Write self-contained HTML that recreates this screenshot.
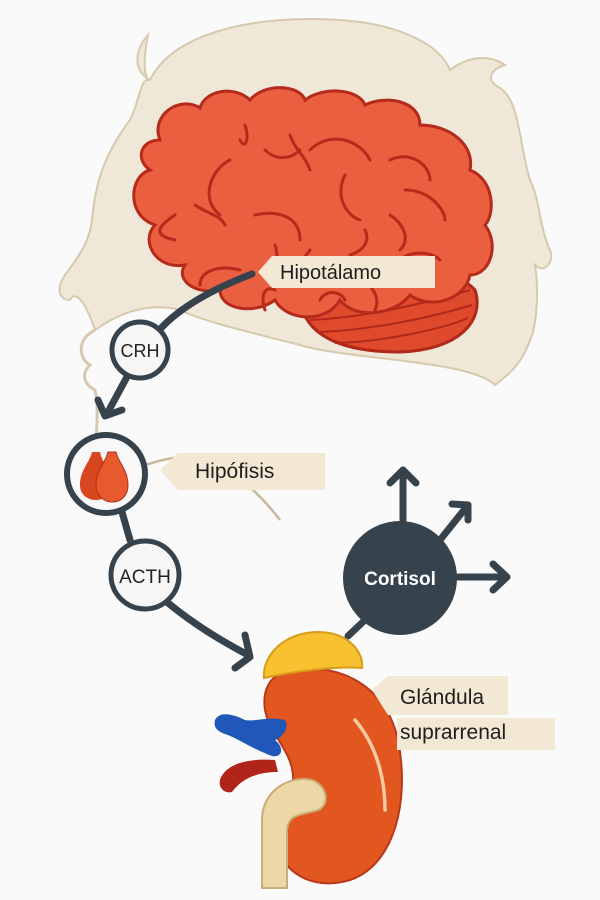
<!DOCTYPE html>
<html><head><meta charset="utf-8"><style>
html,body{margin:0;padding:0;background:#fafafa}
svg{display:block}
text{font-family:"Liberation Sans",sans-serif}
</style></head><body>
<svg width="600" height="900" viewBox="0 0 600 900" xmlns="http://www.w3.org/2000/svg">
<rect width="600" height="900" fill="#fafafa"/>
<path d="M148,35 C135,50 132,70 150,80 C175,30 260,15 340,20 C400,24 440,45 450,70 C470,55 490,55 505,65 C490,70 485,80 500,88 C520,100 520,150 530,180 C540,200 540,230 550,250 C555,260 545,275 535,265 C540,300 535,330 530,340 C520,370 500,380 495,385 C470,360 350,360 300,345 C240,330 200,320 180,310 C140,300 110,320 95,330 C85,300 75,290 70,300 C60,300 55,290 65,275 C80,255 90,240 92,220 C95,190 100,160 130,120 C140,100 140,80 148,80 C142,70 145,50 148,35 Z" fill="#efe8d8" stroke="#d6c9ae" stroke-width="2"/>
<path d="M95,330 C75,340 80,360 90,365 C80,375 85,385 95,390 C100,410 95,440 95,460" fill="none" stroke="#d6c9ae" stroke-width="3"/>
<path d="M130,470 C160,460 190,450 215,462 C240,475 265,500 280,520" fill="none" stroke="#c9b99a" stroke-width="2.5"/>
<path d="M300,300 C330,260 450,260 475,290 C485,320 460,350 400,352 C340,352 305,335 300,300 Z" fill="#e04a2c" stroke="#b0281a" stroke-width="3"/>
<g stroke="#b0281a" stroke-width="2" fill="none">
<path d="M310,320 C360,318 420,305 470,290"/><path d="M320,332 C370,330 430,318 472,305"/><path d="M335,343 C380,342 440,330 468,318"/>
</g>
<path d="M160,140 C150,115 180,95 200,108 C205,90 235,85 250,100 C265,82 300,85 305,100 C325,85 360,90 365,105 C385,95 420,100 420,125 C450,125 475,145 470,170 C495,180 495,215 485,225 C500,245 490,275 470,275 C465,300 430,310 410,295 C395,315 355,320 340,300 C325,325 285,320 275,300 C255,315 220,310 220,290 C195,295 175,280 185,265 C155,270 140,240 155,225 C125,215 130,175 150,170 C135,160 140,140 160,140 Z" fill="#ea5f3f" stroke="#b52a1a" stroke-width="3"/>
<g stroke="#b52a1a" stroke-width="3" fill="none" stroke-linecap="round">
<path d="M230,160 C210,170 200,200 220,215"/><path d="M245,125 C250,140 245,150 240,140"/><path d="M265,150 C275,160 290,160 300,150"/><path d="M290,135 C295,150 305,155 310,170"/>
<path d="M310,150 C330,130 360,140 370,160"/><path d="M345,175 C335,195 345,215 360,220"/><path d="M390,160 C410,150 430,165 430,180"/><path d="M405,190 C430,190 445,210 445,220"/>
<path d="M175,215 C160,225 150,235 175,240"/><path d="M195,205 C210,215 220,215 225,225"/><path d="M255,215 C275,210 300,215 300,240"/><path d="M275,245 C280,260 275,275 270,280"/>
<path d="M310,250 C300,265 285,275 285,285"/><path d="M350,255 C365,250 370,240 365,230"/><path d="M390,215 C405,225 410,240 400,250"/><path d="M395,265 C405,250 430,250 440,260"/>
<path d="M200,285 C200,270 220,265 240,270"/><path d="M265,310 C260,295 265,285 275,290"/><path d="M320,300 C325,290 340,290 345,300"/><path d="M355,275 C375,285 380,300 375,310"/>
</g>
<path d="M258,272 L272,256 L435,256 L435,288 L272,288 Z" fill="#f3e8d3"/>
<text x="280" y="279" font-size="20" fill="#1e1e1e">Hipotálamo</text>
<g stroke="#36434d" stroke-width="7" fill="none" stroke-linecap="round" stroke-linejoin="round">
<path d="M252,274 C210,290 175,310 155,335"/>
<path d="M128,375 L108,412"/>
<path d="M98,400 L105,416 L122,410"/>
<path d="M120,505 L130,540"/>
<path d="M168,603 C195,625 220,640 248,655"/>
<path d="M245,635 L250,657 L235,668"/>
<path d="M403,520 L403,470"/><path d="M390,483 L403,470 L416,483"/>
<path d="M440,540 L468,505"/><path d="M452,504 L468,505 L468,520"/>
<path d="M458,577 L505,577"/><path d="M493,564 L507,577 L493,590"/>
<path d="M365,620 L348,636"/>
</g>
<circle cx="140" cy="350" r="28" fill="#f6f6f6" stroke="#36434d" stroke-width="5"/>
<text x="140" y="357" font-size="18" text-anchor="middle" fill="#222">CRH</text>
<circle cx="106" cy="474" r="39" fill="#f8f8f8" stroke="#36434d" stroke-width="6"/>
<path d="M92,452 C90,462 80,470 80,485 C80,495 88,500 96,500 C104,500 110,495 110,485 C110,470 102,462 100,452 Z" fill="#d8461f"/>
<path d="M108,452 C106,462 96,470 96,485 C96,495 104,502 112,502 C122,502 128,495 128,485 C128,470 118,462 116,452 Z" fill="#e65a2e" stroke="#b5301a" stroke-width="1"/>
<path d="M160,470 L178,453 L325,453 L325,490 L178,490 Z" fill="#f3e8d3"/>
<text x="195" y="478" font-size="21" fill="#1e1e1e">Hipófisis</text>
<circle cx="145" cy="575" r="34" fill="#f6f6f6" stroke="#36434d" stroke-width="5"/>
<text x="145" y="583" font-size="19" text-anchor="middle" fill="#222">ACTH</text>
<circle cx="400" cy="578" r="57" fill="#36434d"/>
<text x="400" y="585" font-size="19" font-weight="bold" text-anchor="middle" fill="#fff">Cortisol</text>
<!-- kidney -->
<path d="M285,672 C330,660 385,680 398,740 C410,800 395,865 350,880 C310,892 280,870 275,840 C272,815 295,800 293,775 C291,750 270,735 265,710 C262,690 270,676 285,672 Z" fill="#e2561f" stroke="#b8381a" stroke-width="2"/>
<path d="M355,720 C372,740 385,770 385,810" stroke="#f9c9a4" stroke-width="3.5" fill="none" stroke-linecap="round"/>
<path d="M264,678 C262,655 285,632 318,632 C348,632 364,652 362,668 C340,666 300,670 264,678 Z" fill="#f7c12f" stroke="#d99b1a" stroke-width="2"/>
<path d="M215,720 C220,710 235,715 245,720 C255,722 268,716 285,720 C290,728 282,738 275,740 C285,748 282,758 272,756 C255,750 240,740 228,735 C218,732 213,728 215,720 Z" fill="#1f58b8"/>
<path d="M220,780 C225,765 245,758 275,760 L278,772 C258,772 242,778 232,792 C225,794 218,788 220,780 Z" fill="#b0241a"/>
<path d="M262,888 L262,820 C262,790 290,775 312,780 C328,786 330,805 318,810 C305,815 287,812 287,832 L287,888 Z" fill="#ecd7a6" stroke="#c9ad78" stroke-width="2"/>
<path d="M372,690 L388,676 L508,676 L508,715 L388,715 Z" fill="#f3e8d3"/>
<rect x="397" y="718" width="158" height="32" fill="#f3e8d3"/>
<text x="400" y="704" font-size="21" fill="#1e1e1e">Glándula</text>
<text x="400" y="739" font-size="21" fill="#1e1e1e">suprarrenal</text>
</svg>
</body></html>
